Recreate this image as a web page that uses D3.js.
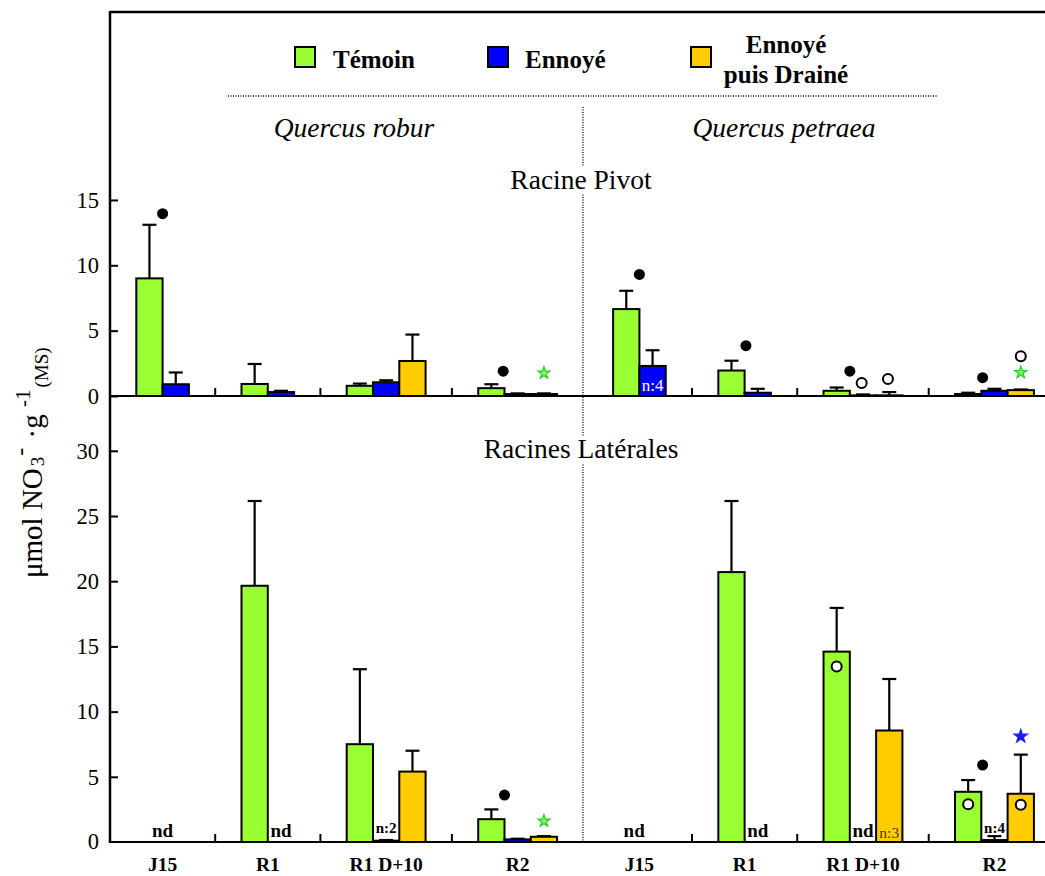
<!DOCTYPE html>
<html>
<head>
<meta charset="utf-8">
<script src="https://cdn.jsdelivr.net/npm/d3@7"></script>
<style>
  body { margin: 0; background: #fff; }
  svg { display: block; font-family: "Liberation Serif", "Times New Roman", serif; }
</style>
</head>
<body>
<svg id="chart" width="1045" height="876"></svg>
<script>
// categories and series
var categories = ["J15", "R1", "R1 D+10", "R2"];
var species = ["Quercus robur", "Quercus petraea"];
var series = ["Témoin", "Ennoyé", "Ennoyé puis Drainé"];
var colors = ["#99ff33", "#0000ff", "#ffcc00"];

// Racine Pivot: [category][series] means and top of error bars (null = not measured)
var pivotRoburMean = [[9.0, 0.9, null], [0.92, 0.3, null], [0.78, 1.05, 2.68], [0.6, 0.15, 0.15]];
var pivotRoburErr  = [[13.1, 1.8, null], [2.45, 0.4, null], [0.95, 1.2, 4.7], [0.9, 0.2, 0.2]];
var pivotPetraeaMean = [[6.65, 2.3, null], [1.95, 0.25, null], [0.4, 0.05, 0.05], [0.15, 0.4, 0.45]];
var pivotPetraeaErr  = [[8.05, 3.5, null], [2.7, 0.55, null], [0.65, 0.12, 0.3], [0.25, 0.55, 0.5]];

// Racines Latérales
var latRoburMean = [[null, null, null], [19.65, null, null], [7.5, 0.1, 5.4], [1.75, 0.2, 0.4]];
var latRoburErr  = [[null, null, null], [26.15, null, null], [13.25, 0.15, 7.0], [2.5, 0.25, 0.45]];
var latPetraeaMean = [[null, null, null], [20.7, null, null], [14.6, null, 8.55], [3.85, 0.15, 3.7]];
var latPetraeaErr  = [[null, null, null], [26.15, null, null], [17.95, null, 12.5], [4.75, 0.45, 6.7]];

// text notes: [panel, species, category, slot, label, kind]
var notes = [
    ["pivot", 1, 0, 2.5, "n:4", "inside"],
    ["lat", 0, 0, 2.0, "nd", "base"],
    ["lat", 0, 1, 2.5, "nd", "base"],
    ["lat", 0, 2, 2.5, "n:2", "small"],
    ["lat", 1, 0, 1.8, "nd", "base"],
    ["lat", 1, 1, 2.5, "nd", "base"],
    ["lat", 1, 2, 2.5, "nd", "base"],
    ["lat", 1, 2, 3.5, "n:3", "inorange"],
    ["lat", 1, 3, 2.5, "n:4", "small"]
];

// significance marks: [panel, species, category, slot, value, type]
var marks = [
    ["pivot", 0, 0, 2.0, 13.95, "dot"],
    ["pivot", 0, 3, 1.95, 1.9, "dot"],
    ["pivot", 0, 3, 3.5, 1.75, "gstar"],
    ["pivot", 1, 0, 2.0, 9.3, "dot"],
    ["pivot", 1, 1, 2.05, 3.85, "dot"],
    ["pivot", 1, 2, 2.0, 1.9, "dot"],
    ["pivot", 1, 2, 2.45, 1.0, "open"],
    ["pivot", 1, 2, 3.45, 1.3, "open"],
    ["pivot", 1, 3, 2.05, 1.4, "dot"],
    ["pivot", 1, 3, 3.5, 3.05, "open"],
    ["pivot", 1, 3, 3.5, 1.8, "gstar"],
    ["lat", 0, 3, 2.0, 3.6, "dot"],
    ["lat", 0, 3, 3.5, 1.6, "gstar"],
    ["lat", 1, 2, 1.5, 13.45, "open"],
    ["lat", 1, 3, 1.5, 2.9, "open"],
    ["lat", 1, 3, 2.05, 5.9, "dot"],
    ["lat", 1, 3, 3.5, 2.85, "open"],
    ["lat", 1, 3, 3.5, 8.1, "bstar"]
];

var groupStart = [0, 4, 8, 13];   // in slots, inside one species half
var groupSize = [4, 4, 5, 5];
var halfStart = [0, 18.13];

var svg = d3.select("#chart");
var slot = d3.scaleLinear().domain([0, 36]).range([110, 110 + 36 * 26.3]);
var slotW = slot(1) - slot(0);

var yTop = d3.scaleLinear().domain([0, 15]).range([396, 396 - 15 * 13.07]);
var yBot = d3.scaleLinear().domain([0, 30]).range([842, 842 - 30 * 13.04]);
var yOf = { pivot: yTop, lat: yBot };

function sx(sp, cat, s) {
    return slot(halfStart[sp] + groupStart[cat] + s);
}

// frame
svg.append("line").attr("x1", 110).attr("x2", 1045).attr("y1", 12).attr("y2", 12)
    .attr("stroke", "#000").attr("stroke-width", 2.5);

// dotted separators
svg.append("line").attr("x1", 228).attr("x2", 938).attr("y1", 96).attr("y2", 96)
    .attr("stroke", "#000").attr("stroke-width", 1.3).attr("stroke-dasharray", "1,1.5");
svg.append("line").attr("x1", 583).attr("x2", 583).attr("y1", 107).attr("y2", 841)
    .attr("stroke", "#000").attr("stroke-width", 1.3).attr("stroke-dasharray", "1,1.5");

// legend
var legend = [
    { x: 295, y: 47, lines: ["Témoin"], tx: 333, anchor: "start", ty: [68] },
    { x: 488, y: 47, lines: ["Ennoyé"], tx: 525, anchor: "start", ty: [68] },
    { x: 691, y: 47, lines: ["Ennoyé", "puis Drainé"], tx: 786, anchor: "middle", ty: [53, 83] }
];
legend.forEach(function (d, i) {
    svg.append("rect").attr("x", d.x).attr("y", d.y).attr("width", 20).attr("height", 20)
        .attr("fill", colors[i]).attr("stroke", "#000").attr("stroke-width", 2);
    d.lines.forEach(function (l, j) {
        svg.append("text").attr("x", d.tx).attr("y", d.ty[j]).attr("text-anchor", d.anchor)
            .attr("font-size", 25).attr("font-weight", "bold").text(l);
    });
});

// species titles
[354, 784].forEach(function (cx, i) {
    svg.append("text").attr("x", cx).attr("y", 137).attr("text-anchor", "middle")
        .attr("font-size", 27.5).attr("font-style", "italic").text(species[i]);
});

// panel titles with white backing over the divider
[["Racine Pivot", 189], ["Racines Latérales", 458]].forEach(function (d) {
    var t = svg.append("text").attr("x", 581).attr("y", d[1]).attr("text-anchor", "middle")
        .attr("font-size", 27.5).text(d[0]);
    var b = t.node().getBBox();
    svg.insert("rect", "text:last-of-type").attr("x", b.x).attr("y", b.y + 3)
        .attr("width", b.width).attr("height", b.height - 4).attr("fill", "#fff");
    t.raise();
});

// bars + error bars
function drawPanel(panel, means, errs) {
    var y = yOf[panel];
    var g = svg.append("g").attr("class", "bars-" + panel);
    means.forEach(function (sp, spi) {
        sp.forEach(function (cat, ci) {
            cat.forEach(function (v, si) {
                if (v === null) return;
                var x0 = sx(spi, ci, si + 1);
                var e = errs[spi][ci][si];
                if (e !== null && e > v) {
                    var xc = x0 + slotW / 2;
                    g.append("line").attr("x1", xc).attr("x2", xc).attr("y1", y(v)).attr("y2", y(e))
                        .attr("stroke", "#000").attr("stroke-width", 2.2);
                    g.append("line").attr("x1", xc - 7).attr("x2", xc + 7).attr("y1", y(e)).attr("y2", y(e))
                        .attr("stroke", "#000").attr("stroke-width", 2.2);
                }
                g.append("rect").attr("x", x0).attr("y", y(v)).attr("width", slotW)
                    .attr("height", y(0) - y(v)).attr("fill", colors[si])
                    .attr("stroke", "#000").attr("stroke-width", 2);
            });
        });
    });
}
drawPanel("pivot", [pivotRoburMean, pivotPetraeaMean], [pivotRoburErr, pivotPetraeaErr]);
drawPanel("lat", [latRoburMean, latPetraeaMean], [latRoburErr, latPetraeaErr]);

// axes
svg.append("line").attr("x1", 110).attr("x2", 110).attr("y1", 11).attr("y2", 843)
    .attr("stroke", "#000").attr("stroke-width", 2.5);
[396, 842].forEach(function (yy) {
    svg.append("line").attr("x1", 109).attr("x2", 1045).attr("y1", yy).attr("y2", yy)
        .attr("stroke", "#000").attr("stroke-width", 2.2);
});

var axTop = svg.append("g").attr("transform", "translate(110,0)")
    .call(d3.axisLeft(yTop).tickValues([0, 5, 10, 15]).tickSizeInner(-8).tickSizeOuter(0).tickPadding(11));
var axBot = svg.append("g").attr("transform", "translate(110,0)")
    .call(d3.axisLeft(yBot).tickValues([5, 10, 15, 20, 25, 30]).tickSizeInner(-8).tickSizeOuter(0).tickPadding(11));
[axTop, axBot].forEach(function (a) {
    a.select(".domain").remove();
    a.attr("font-family", null);
    a.selectAll("line").attr("stroke", "#000").attr("stroke-width", 2);
    a.selectAll("text").attr("font-size", 22.5).attr("fill", "#000");
});
svg.append("text").attr("x", 99).attr("y", 842).attr("dy", "0.32em").attr("text-anchor", "end")
    .attr("font-size", 22.5).text("0");

// group separator ticks on both baselines
[0, 1].forEach(function (spi) {
    [1, 2, 3].forEach(function (ci) {
        var xx = sx(spi, ci, 0);
        [396, 842].forEach(function (yy) {
            svg.append("line").attr("x1", xx).attr("x2", xx).attr("y1", yy).attr("y2", yy - 8)
                .attr("stroke", "#000").attr("stroke-width", 2);
        });
    });
    categories.forEach(function (c, ci) {
        svg.append("text").attr("x", sx(spi, ci, groupSize[ci] / 2)).attr("y", 871)
            .attr("text-anchor", "middle").attr("font-size", 19.5).attr("font-weight", "bold").text(c);
    });
});

// notes
notes.forEach(function (n) {
    var x = sx(n[1], n[2], n[3]);
    var t = svg.append("text").attr("x", x).attr("text-anchor", "middle");
    if (n[5] === "inside") {
        t.attr("y", yTop(0) - 5).attr("font-size", 17).attr("fill", "#fff");
    } else if (n[5] === "base") {
        t.attr("y", 837).attr("font-size", 19).attr("font-weight", "bold");
    } else if (n[5] === "small") {
        t.attr("y", 833).attr("font-size", 15).attr("font-weight", "bold");
    } else {
        t.attr("y", 838).attr("font-size", 15.5).attr("fill", "#4a3c00");
    }
    t.text(n[4]);
});

// significance marks
marks.forEach(function (m) {
    var x = sx(m[1], m[2], m[3]);
    var y = yOf[m[0]](m[4]);
    if (m[5] === "dot") {
        svg.append("circle").attr("cx", x).attr("cy", y).attr("r", 5.5).attr("fill", "#000");
    } else if (m[5] === "open") {
        svg.append("circle").attr("cx", x).attr("cy", y).attr("r", 5).attr("fill", "#fff")
            .attr("stroke", "#000").attr("stroke-width", 2);
    } else {
        var green = m[5] === "gstar";
        svg.append("path").attr("d", d3.symbol().type(d3.symbolStar).size(green ? 45 : 55)())
            .attr("transform", "translate(" + x + "," + y + ")")
            .attr("fill", green ? "#77ff55" : "#1a1aff")
            .attr("stroke", green ? "#22cc22" : "#1a1aff").attr("stroke-width", 1.2);
    }
});

// y axis title, reads bottom to top
var yt = svg.append("text").attr("transform", "translate(42,578) rotate(-90)")
    .attr("text-anchor", "start").attr("font-size", 29);
yt.append("tspan").text("μmol NO");
yt.append("tspan").attr("font-size", 19).attr("dx", 2).attr("dy", 2).text("3");
yt.append("tspan").attr("font-size", 24).attr("dx", 1).attr("dy", -16).text("-");
yt.append("tspan").attr("dx", 2).attr("dy", 14).text(" ·g ");
yt.append("tspan").attr("font-size", 21).attr("dy", -12).text("-1");
yt.append("tspan").attr("font-size", 19).attr("dx", 2).attr("dy", 18).text("(MS)");
</script>
</body>
</html>
